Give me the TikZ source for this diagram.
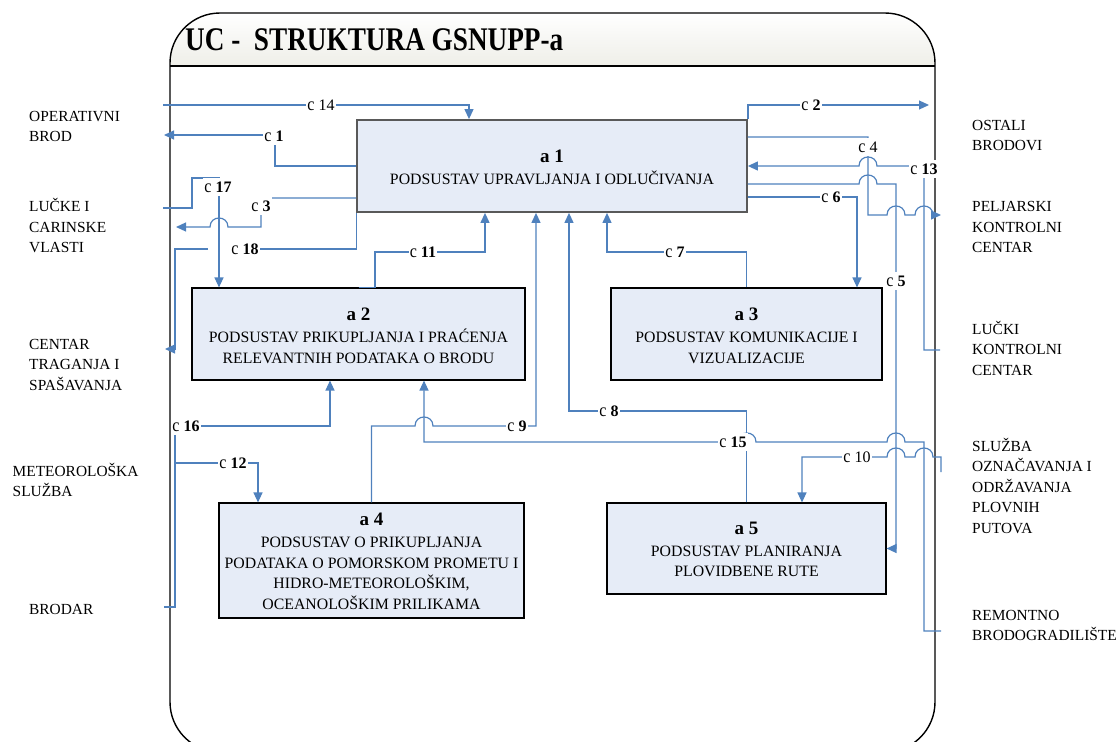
\documentclass[tikz,border=0pt]{standalone}
\usepackage{fontspec}
\setmainfont{Liberation Serif}
\usepackage{graphicx}
\usetikzlibrary{arrows.meta}
\definecolor{cblue}{RGB}{79,129,189}
\definecolor{boxfill}{RGB}{230,236,247}
\definecolor{bargrey}{RGB}{215,215,200}
\newcommand{\tf}{\fontsize{15.4}{20.5}\selectfont}
\newcommand{\lf}{\fontsize{16}{20.5}\selectfont}
\newcommand{\boxf}{\fontsize{15.8}{20.5}\selectfont}
\newcommand{\hf}{\fontsize{19}{20.5}\selectfont\bfseries}
\newcommand{\cc}{\scalebox{1}[1.15]{c}}
\begin{document}
\begin{tikzpicture}[x=1pt,y=-1pt,
  conn/.style={draw=cblue,line width=1.2pt},
  arr/.style={-{Triangle[length=10pt,width=9pt]}},
  lbl/.style={fill=white,inner xsep=1pt,inner ysep=4pt,font=\lf},
  box/.style={draw=black,fill=boxfill,line width=1.1pt,inner sep=0pt},
  boxtxt/.style={align=center,inner sep=0pt,anchor=north,font=\boxf},
  ext/.style={align=left,inner sep=0pt,anchor=north west,font=\tf}]

\useasboundingbox (0,0) rectangle (1120,742);

% frame
\begin{scope}
  \clip (0,0) rectangle (1120,66);
  \shade[top color=white,bottom color=bargrey,rounded corners=50pt] (170,13) rectangle (935,140);
\end{scope}
\draw[line width=1.4pt,rounded corners=50pt] (170,13) rectangle (935,752);
\draw[line width=1.3pt] (170,66) -- (935,66);
\node[anchor=base west,inner sep=0pt,font=\fontsize{33}{36}\selectfont\bfseries] (title) at (185,50) {\scalebox{0.825}[1]{UC -\ \ STRUKTURA GSNUPP-a}};

% boxes
\node[box,draw=black!65,line width=1.8pt,minimum width=390pt,minimum height=92pt] (a1) at (552,166) {};
\node[box,minimum width=333pt,minimum height=92pt] (a2) at (358.5,334) {};
\node[box,minimum width=271pt,minimum height=92pt] (a3) at (746.5,334) {};
\node[box,minimum width=305pt,minimum height=115pt] (a4) at (371.5,560.5) {};
\node[box,minimum width=279pt,minimum height=91pt] (a5) at (746.5,548.5) {};

\node[boxtxt] (a1t) at (552,147.65) {\strut\hf a 1\\[1.5pt] PODSUSTAV UPRAVLJANJA I ODLUČIVANJA};
\node[boxtxt] (a2t) at (358.5,305.65) {\strut\hf a 2\\[2pt] PODSUSTAV PRIKUPLJANJA I PRAĆENJA\\ RELEVANTNIH PODATAKA O BRODU};
\node[boxtxt] (a3t) at (746.5,305.65) {\strut\hf a 3\\[2pt] PODSUSTAV KOMUNIKACIJE I\\ VIZUALIZACIJE};
\node[boxtxt] (a4t) at (371.5,510.65) {\strut\hf a 4\\[2pt] PODSUSTAV O PRIKUPLJANJA\\ PODATAKA O POMORSKOM PROMETU I\\ HIDRO-METEOROLOŠKIM,\\ OCEANOLOŠKIM PRILIKAMA};
\node[boxtxt] (a5t) at (746.5,519.65) {\strut\hf a 5\\[1.5pt] PODSUSTAV PLANIRANJA\\ PLOVIDBENE RUTE};

% external parties
\node[ext] (e1) at (29,106.65) {\strut OPERATIVNI\\ BROD};
\node[ext] (e2) at (29,197.35) {\strut LUČKE I\\ CARINSKE\\ VLASTI};
\node[ext] (e3) at (29,334.65) {\strut CENTAR\\ TRAGANJA I\\ SPAŠAVANJA};
\node[ext] (e4) at (12.5,461.65) {\strut METEOROLOŠKA\\ SLUŽBA};
\node[ext] (e5) at (29,600) {\strut BRODAR};
\node[ext] (f1) at (972,115.65) {\strut OSTALI\\ BRODOVI};
\node[ext] (f2) at (972,197.35) {\strut PELJARSKI\\ KONTROLNI\\ CENTAR};
\node[ext] (f3) at (972,319.65) {\strut LUČKI\\ KONTROLNI\\ CENTAR};
\node[ext] (f4) at (972,436.65) {\strut SLUŽBA\\ OZNAČAVANJA I\\ ODRŽAVANJA\\ PLOVNIH\\ PUTOVA};
\node[ext] (f5) at (972,605.65) {\strut REMONTNO\\ BRODOGRADILIŠTE};

% connector end points
\coordinate (p14) at (163,105);
\coordinate (p1) at (164,135);
\coordinate (p17) at (163,208);
\coordinate (p3) at (176,227);
\coordinate (p18) at (165,349);
\coordinate (p16) at (164,607);
\coordinate (j12) at (175,463);
\coordinate (q2) at (929,105);
\coordinate (q4) at (941,215);
\coordinate (q13) at (940,350);
\coordinate (q10) at (941,472);
\coordinate (q15) at (941,631);

% connectors
\draw[conn,arr] (p14) -| (a1.north -| 469,0);
\draw[conn,arr] (a1.west) -- (275,166) -- (275,135) -- (p1);
\draw[conn,arr] (a1.south west) -- (a1.south west |- 0,249) -- (232,249) (208,249) -- (175,249) -- (175,349) -- (p18);
\draw[conn,arr] (p17) -- (192,208) -- (192,178) -- (219,178) -- (a2.north -| 219,0);
\draw[conn,arr] (a1.west |- 0,198) -- (261,198) -- (261,227) -- (228,227) .. controls (228,215) and (210,215) .. (210,227) -- (p3);
\draw[conn,arr] (a2.north) -- (a2.north -| 375,0) -- (375,252) -- (485,252) -- (a1.south -| 485,0);
\draw[conn,arr] (a3.north) |- (607,252) -- (a1.south -| 607,0);
\draw[conn,arr] (a5.north) |- (569,411) -- (a1.south -| 569,0);
\draw[conn,arr] (a4.north) -- (a4.north |- 0,426) -- (415,426) .. controls (415,414) and (433,414) .. (433,426) -- (536,426) -- (a1.south -| 536,0);
\draw[conn,arr] (q15) -- (924,631) -- (924,442) -- (905,442) .. controls (905,430) and (887,430) .. (887,442) -- (756,442) .. controls (756,430) and (738,430) .. (738,442) -- (424,442) -- (a2.south -| 424,0);
\draw[conn,arr] (p16) -- (175,607) -- (175,426) -- (330,426) -- (a2.south -| 330,0);
\draw[conn,arr] (j12) -- (258,463) -- (a4.north -| 258,0);
\draw[conn,arr] (a1.north east) -- (a1.north east |- 0,105) -- (q2);
\draw[conn,arr] (a1.east |- 0,137) -- (868,137) -- (868,215) -- (887,215) .. controls (887,203) and (905,203) .. (905,215) -- (915,215) .. controls (915,203) and (933,203) .. (933,215) -- (q4);
\draw[conn,arr] (q13) -- (924,350) -- (924,166) -- (877,166) .. controls (877,154) and (859,154) .. (859,166) -- (a1.east);
\draw[conn,arr] (a1.east |- 0,184) -- (859,184) .. controls (859,172) and (877,172) .. (877,184) -- (896,184) |- (a5.east);
\draw[conn,arr] (a1.east |- 0,197) -| (a3.north -| 857,0);
\draw[conn,arr] (q10) -- (941,457) -- (933,457) .. controls (933,445) and (915,445) .. (915,457) -- (905,457) .. controls (905,445) and (887,445) .. (887,457) -- (802,457) -- (a5.north -| 802,0);

% connector labels
\node[lbl] (l14) at (321,105) {\cc\ 14};
\node[lbl] (l1) at (274,136) {\cc\ \textbf{1}};
\node[lbl] (l17) at (218,187) {\cc\ \textbf{17}};
\node[lbl] (l3) at (261,206) {\cc\ \textbf{3}};
\node[lbl] (l18) at (245,249) {\cc\ \textbf{18}};
\node[lbl] (l11) at (423,252) {\cc\ \textbf{11}};
\node[lbl] (l7) at (675,252) {\cc\ \textbf{7}};
\node[lbl] (l2) at (811,105) {\cc\ \textbf{2}};
\node[lbl] (l4) at (868,147) {\cc\ 4};
\node[lbl] (l13) at (924,169) {\cc\ \textbf{13}};
\node[lbl] (l6) at (831,197) {\cc\ \textbf{6}};
\node[lbl] (l5) at (896,281) {\cc\ \textbf{5}};
\node[lbl] (l8) at (609,411) {\cc\ \textbf{8}};
\node[lbl] (l9) at (517,426) {\cc\ \textbf{9}};
\node[lbl] (l15) at (733,442) {\cc\ \textbf{15}};
\node[lbl] (l10) at (857,457) {\cc\ 10};
\node[lbl] (l16) at (186,426) {\cc\ \textbf{16}};
\node[lbl] (l12) at (233,463) {\cc\ \textbf{12}};
\end{tikzpicture}
\end{document}
